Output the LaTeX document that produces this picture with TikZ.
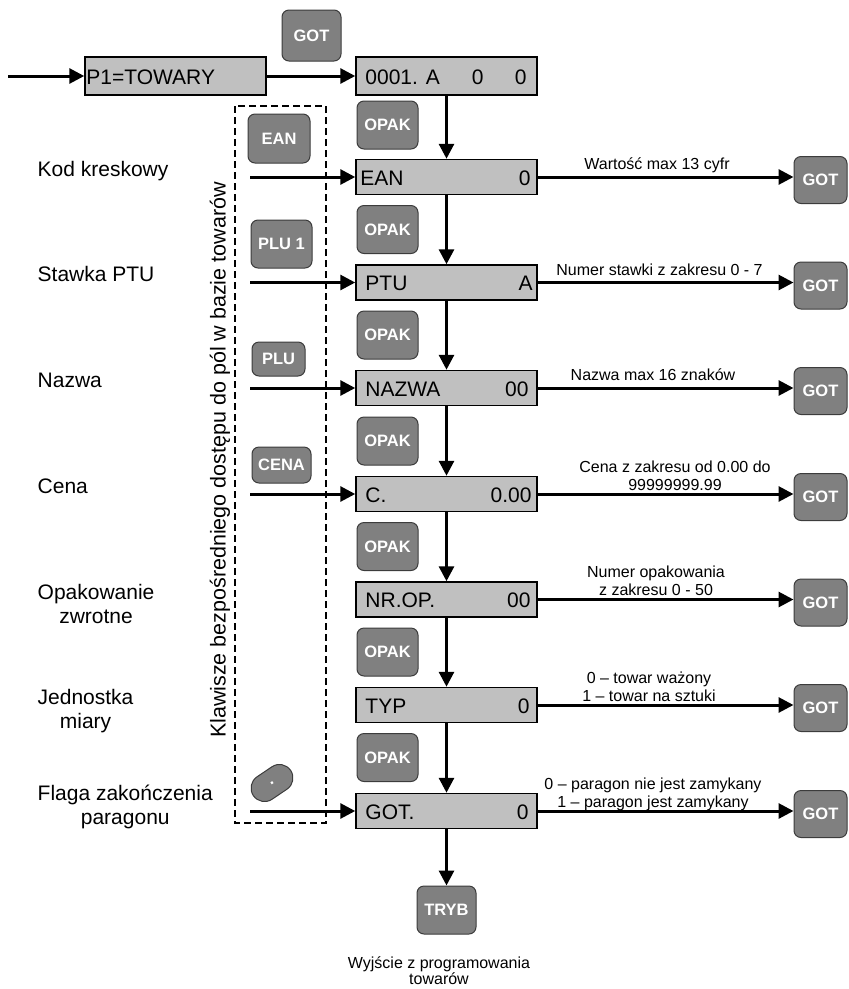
\documentclass[tikz,border=0pt]{standalone}
\usepackage{fontspec}
\setmainfont{Liberation Sans}
\usetikzlibrary{arrows.meta,calc}
\definecolor{boxgray}{RGB}{192,192,192}
\definecolor{keygray}{RGB}{128,128,128}
\definecolor{keyedge}{RGB}{60,60,60}
\newcommand{\BigTxt}{\fontsize{21}{24}\selectfont}
\newcommand{\SmallTxt}{\fontsize{16}{18}\selectfont}
\newcommand{\KeyTxt}{\fontsize{16.5}{18}\selectfont\bfseries}
\begin{document}
\begin{tikzpicture}[x=1pt,y=-1pt,
  valbox/.style={draw=black, line width=1.5pt, fill=boxgray, minimum width=181pt, minimum height=35pt, inner sep=0pt},
  keybtn/.style={draw=keyedge, line width=1pt, fill=keygray, rounded corners=7pt, text=white, font=\KeyTxt, inner sep=0pt},
  flow/.style={line width=3pt, -{Triangle[length=15pt,width=15pt]}},
  btxt/.style={font=\BigTxt, inner sep=0pt},
  stxt/.style={font=\SmallTxt, inner sep=0pt, align=center},
  keyframe/.style={draw=black, line width=2.5pt, dash pattern=on 7pt off 4pt}
]
\useasboundingbox (0,0) rectangle (849,989);

% dashed frame of direct-access keys
\draw[keyframe] (235,106) rectangle (326,823);
\node[btxt, rotate=90, font=\fontsize{21.5}{24}\selectfont] (side) at (220,460) {Klawisze bezpośredniego dostępu do pól w bazie towarów};

% top row
\node[valbox, minimum height=38pt] (p1) at (175.5,76) {};
\node[btxt, anchor=base west] (p1t) at ([xshift=2pt,yshift=-8pt]p1.west) {P1=TOWARY};
\node[valbox, minimum height=38pt] (b0) at (446.5,76) {};
\node[btxt, anchor=base west] (b0l) at ([xshift=10pt,yshift=-8pt]b0.west) {0001. A};
\node[btxt, anchor=base east] (b0m) at ([xshift=-54pt,yshift=-8pt]b0.east) {0};
\node[btxt, anchor=base east] (b0r) at ([xshift=-11pt,yshift=-8pt]b0.east) {0};
\node[keybtn, minimum width=59pt, minimum height=51pt] (gtop) at (311.5,35.5) {GOT};
\coordinate (start) at (8,76);
\draw[flow] (start) -- (p1.west);
\draw[flow] (p1.east) -- (b0.west);

% value boxes
\node[valbox] (b1) at (446.5,177) {};
\node[valbox] (b2) at (446.5,282.5) {};
\node[valbox] (b3) at (446.5,388) {};
\node[valbox] (b4) at (446.5,494) {};
\node[valbox] (b5) at (446.5,599.5) {};
\node[valbox] (b6) at (446.5,705) {};
\node[valbox] (b7) at (446.5,811) {};

\node[btxt, anchor=base west] (b1l) at ([xshift=5pt,yshift=-8pt]b1.west) {EAN};
\node[btxt, anchor=base east] (b1r) at ([xshift=-7pt,yshift=-8pt]b1.east) {0};
\node[btxt, anchor=base west] (b2l) at ([xshift=10pt,yshift=-8pt]b2.west) {PTU};
\node[btxt, anchor=base east] (b2r) at ([xshift=-5pt,yshift=-8pt]b2.east) {A};
\node[btxt, anchor=base west] (b3l) at ([xshift=10pt,yshift=-8pt]b3.west) {NAZWA};
\node[btxt, anchor=base east] (b3r) at ([xshift=-9pt,yshift=-8pt]b3.east) {00};
\node[btxt, anchor=base west] (b4l) at ([xshift=10pt,yshift=-8pt]b4.west) {C.};
\node[btxt, anchor=base east] (b4r) at ([xshift=-6pt,yshift=-8pt]b4.east) {0.00};
\node[btxt, anchor=base west] (b5l) at ([xshift=10pt,yshift=-8pt]b5.west) {NR.OP.};
\node[btxt, anchor=base east] (b5r) at ([xshift=-7pt,yshift=-8pt]b5.east) {00};
\node[btxt, anchor=base west] (b6l) at ([xshift=10pt,yshift=-8pt]b6.west) {TYP};
\node[btxt, anchor=base east] (b6r) at ([xshift=-8pt,yshift=-8pt]b6.east) {0};
\node[btxt, anchor=base west] (b7l) at ([xshift=10pt,yshift=-8pt]b7.west) {GOT.};
\node[btxt, anchor=base east] (b7r) at ([xshift=-9pt,yshift=-8pt]b7.east) {0};

% OPAK keys
\node[keybtn, minimum width=61pt, minimum height=48pt] (o1) at (387.5,125) {OPAK};
\node[keybtn, minimum width=61pt, minimum height=48pt] (o2) at (387.5,229.5) {OPAK};
\node[keybtn, minimum width=61pt, minimum height=48pt] (o3) at (387.5,335) {OPAK};
\node[keybtn, minimum width=61pt, minimum height=48pt] (o4) at (387.5,441) {OPAK};
\node[keybtn, minimum width=61pt, minimum height=48pt] (o5) at (387.5,546.5) {OPAK};
\node[keybtn, minimum width=61pt, minimum height=48pt] (o6) at (387.5,652) {OPAK};
\node[keybtn, minimum width=61pt, minimum height=48pt] (o7) at (387.5,757.5) {OPAK};

% vertical flow
\draw[flow] (b0.south) -- (b1.north);
\draw[flow] (b1.south) -- (b2.north);
\draw[flow] (b2.south) -- (b3.north);
\draw[flow] (b3.south) -- (b4.north);
\draw[flow] (b4.south) -- (b5.north);
\draw[flow] (b5.south) -- (b6.north);
\draw[flow] (b6.south) -- (b7.north);

% exit
\node[keybtn, minimum width=59pt, minimum height=48pt] (tryb) at (446.5,910) {TRYB};
\draw[flow] (b7.south) -- (tryb.north);
\node[stxt, align=center, font=\fontsize{16}{16}\selectfont] (exit) at (439,971) {Wyjście z programowania\\towarów};

% direct-access keys
\node[keybtn, minimum width=62pt, minimum height=49pt] (kean) at (279,138.5) {EAN};
\node[keybtn, minimum width=61pt, minimum height=48pt] (kplu1) at (281.5,244) {PLU 1};
\node[keybtn, minimum width=53pt, minimum height=34pt] (kplu) at (278.5,359) {PLU};
\node[keybtn, minimum width=59pt, minimum height=36pt] (kcena) at (281.5,465) {CENA};
\node[keybtn, rounded corners=13.5pt, minimum width=45pt, minimum height=27pt, rotate=34] (kdot) at (272,783) {.};

\coordinate (s1) at (250,177);
\coordinate (s2) at (250,282.5);
\coordinate (s3) at (250,388);
\coordinate (s4) at (250,494);
\coordinate (s7) at (250,811);
\draw[flow] (s1) -- (b1.west);
\draw[flow] (s2) -- (b2.west);
\draw[flow] (s3) -- (b3.west);
\draw[flow] (s4) -- (b4.west);
\draw[flow] (s7) -- (b7.west);

% left labels
\node[btxt, anchor=base west] (lab1) at (37.5,176) {Kod kreskowy};
\node[btxt, anchor=base west] (lab2) at (37.5,281.5) {Stawka PTU};
\node[btxt, anchor=base west] (lab3) at (37.5,387) {Nazwa};
\node[btxt, anchor=base west] (lab4) at (37.5,493) {Cena};
\node[btxt, anchor=west, align=center] (lab5) at (37.5,604.4) {Opakowanie\\zwrotne};
\node[btxt, anchor=west, align=center] (lab6) at (37.5,711.5) {Jednostka\\miary};
\node[btxt, anchor=west, align=center] (lab7) at (37.5,806.5) {Flaga zakończenia\\paragonu};

% right GOT keys
\node[keybtn, minimum width=53pt, minimum height=47pt] (g1) at (820.5,180) {GOT};
\node[keybtn, minimum width=53pt, minimum height=47pt] (g2) at (820.5,285.5) {GOT};
\node[keybtn, minimum width=53pt, minimum height=47pt] (g3) at (820.5,391) {GOT};
\node[keybtn, minimum width=53pt, minimum height=47pt] (g4) at (820.5,497) {GOT};
\node[keybtn, minimum width=53pt, minimum height=47pt] (g5) at (820.5,602.5) {GOT};
\node[keybtn, minimum width=53pt, minimum height=47pt] (g6) at (820.5,708) {GOT};
\node[keybtn, minimum width=53pt, minimum height=47pt] (g7) at (820.5,814) {GOT};

\draw[flow] (b1.east) -- (b1.east -| g1.west);
\draw[flow] (b2.east) -- (b2.east -| g2.west);
\draw[flow] (b3.east) -- (b3.east -| g3.west);
\draw[flow] (b4.east) -- (b4.east -| g4.west);
\draw[flow] (b5.east) -- (b5.east -| g5.west);
\draw[flow] (b6.east) -- (b6.east -| g6.west);
\draw[flow] (b7.east) -- (b7.east -| g7.west);

% arrow labels
\node[stxt, anchor=base] (l1) at (657,169.5) {Wartość max 13 cyfr};
\node[stxt, anchor=base] (l2) at (659.5,275) {Numer stawki z zakresu 0 - 7};
\node[stxt, anchor=base] (l3) at (653,380.5) {Nazwa max 16 znaków};
\node[stxt] (l4) at (675,475.7) {Cena z zakresu od 0.00 do\\99999999.99};
\node[stxt] (l5) at (656,581.2) {Numer opakowania\\z zakresu 0 - 50};
\node[stxt] (l6) at (649,686.7) {0 – towar ważony\\1 – towar na sztuki};
\node[stxt] (l7) at (653,794.4) {0 – paragon nie jest zamykany\\1 – paragon jest zamykany};
\end{tikzpicture}
\end{document}
